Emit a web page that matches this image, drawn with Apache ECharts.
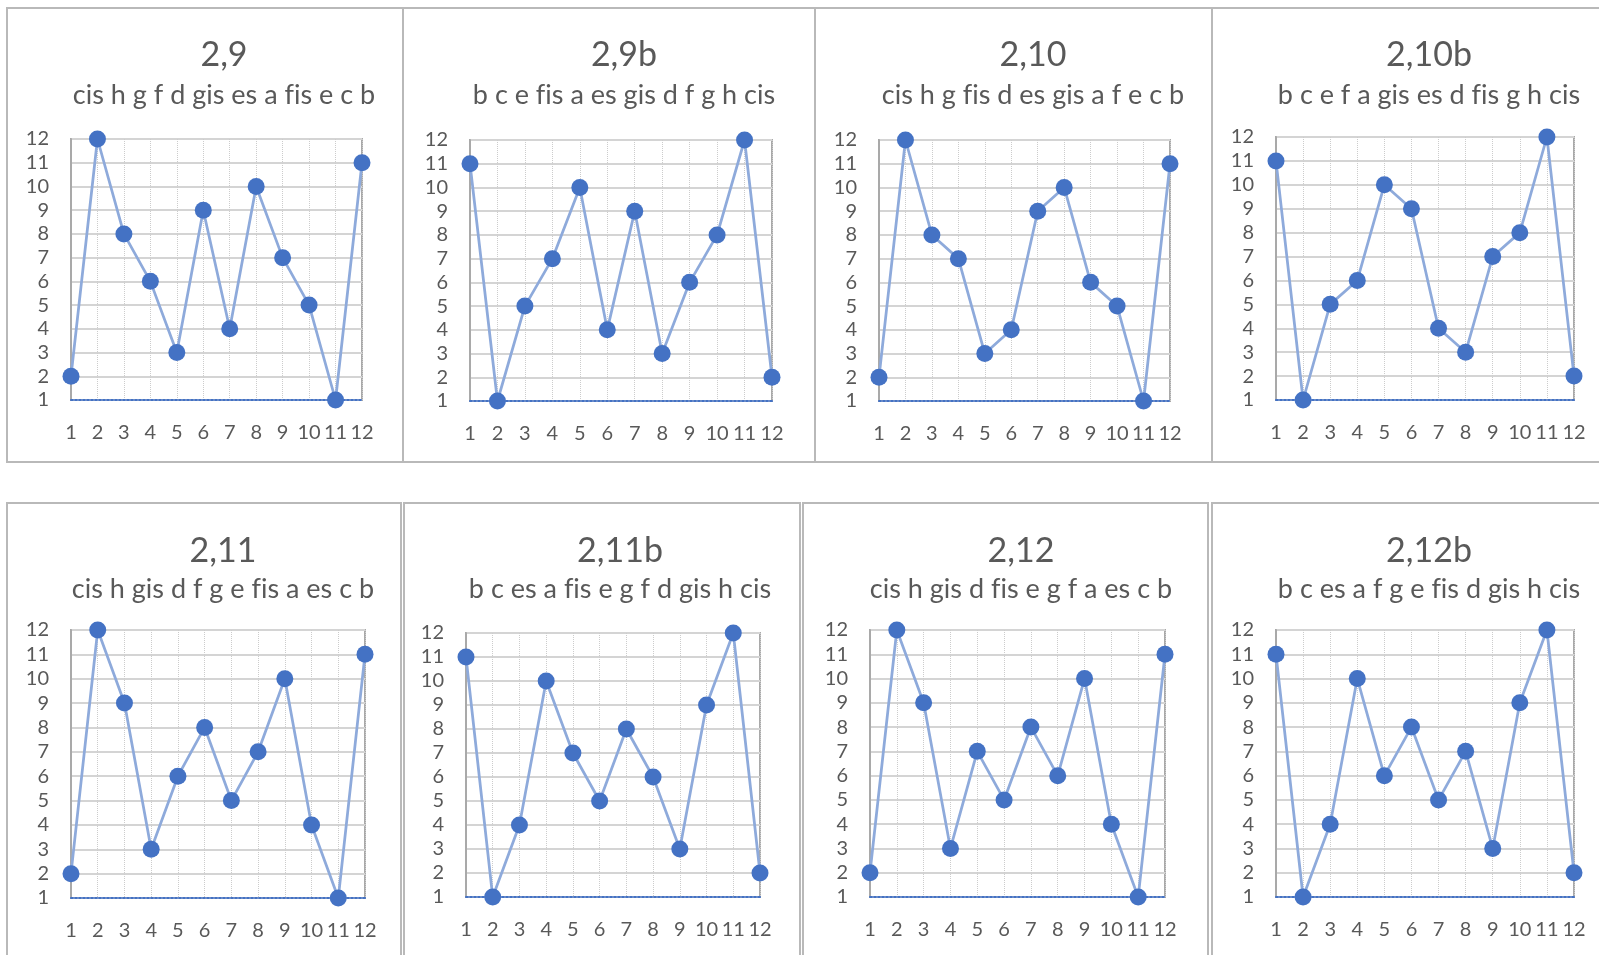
<!DOCTYPE html>
<html>
<head>
<meta charset="utf-8">
<script src="https://cdn.jsdelivr.net/npm/echarts@6/dist/echarts.min.js"></script>
<style>
  body { margin: 0; background: #fff; width: 1599px; height: 955px; overflow: hidden; position: relative; }
  .pn { position: absolute; box-sizing: border-box; border: 2px solid #b9b9b9; overflow: hidden; background: #fff; }
  .ch { position: absolute; left: -2px; top: -2px; }
</style>
</head>
<body>
<script>
// tone rows, one line per chart
var titles = ['2,9', '2,9b', '2,10', '2,10b', '2,11', '2,11b', '2,12', '2,12b'];
var subtitles = [
  'cis h g f d gis es a fis e c b',
  'b c e fis a es gis d f g h cis',
  'cis h g fis d es gis a f e c b',
  'b c e f a gis es d fis g h cis',
  'cis h gis d f g e fis a es c b',
  'b c es a fis e g f d gis h cis',
  'cis h gis d fis e g f a es c b',
  'b c es a f g e fis d gis h cis'
];
var xLabels = ['1', '2', '3', '4', '5', '6', '7', '8', '9', '10', '11', '12'];

var v29   = [2, 12, 8, 6, 3, 9, 4, 10, 7, 5, 1, 11];
var v29b  = [11, 1, 5, 7, 10, 4, 9, 3, 6, 8, 12, 2];
var v210  = [2, 12, 8, 7, 3, 4, 9, 10, 6, 5, 1, 11];
var v210b = [11, 1, 5, 6, 10, 9, 4, 3, 7, 8, 12, 2];
var v211  = [2, 12, 9, 3, 6, 8, 5, 7, 10, 4, 1, 11];
var v211b = [11, 1, 4, 10, 7, 5, 8, 6, 3, 9, 12, 2];
var v212  = [2, 12, 9, 3, 7, 5, 8, 6, 10, 4, 1, 11];
var v212b = [11, 1, 4, 10, 6, 8, 5, 7, 3, 9, 12, 2];
var values = [v29, v29b, v210, v210b, v211, v211b, v212, v212b];

// layout: panel box [x0, y0, x1, y1], plot box [l, t, r, b], title centre x
var layout = [
  { box: [6, 7, 404, 463],    plot: [71, 139, 362, 400],   tx: 219 },
  { box: [402, 7, 816, 463],  plot: [470, 140, 772, 401],  tx: 619 },
  { box: [814, 7, 1213, 463], plot: [879, 140, 1170, 401], tx: 1028 },
  { box: [1211, 7, 1620, 463], plot: [1276, 137, 1574, 400], tx: 1424 },
  { box: [6, 502, 402, 970],  plot: [71, 630, 365, 898],   tx: 218 },
  { box: [403, 502, 801, 970], plot: [466, 633, 760, 897], tx: 615 },
  { box: [802, 502, 1209, 970], plot: [870, 630, 1165, 897], tx: 1016 },
  { box: [1211, 502, 1620, 970], plot: [1276, 630, 1574, 897], tx: 1424 }
];

var FONT = 'Lato';
var GREY = '#595959';

// Lato would draw "fi" as a ligature; a zero-width non-joiner keeps the letters apart
function noLig(s) { return s.replace(/fi/g, 'f\u200Ci'); }

titles.forEach(function (t, i) {
  var L = layout[i];
  var w = L.box[2] - L.box[0], h = L.box[3] - L.box[1];
  var pn = document.createElement('div');
  pn.className = 'pn';
  pn.style.left = L.box[0] + 'px'; pn.style.top = L.box[1] + 'px';
  pn.style.width = w + 'px'; pn.style.height = h + 'px';
  var el = document.createElement('div');
  el.className = 'ch';
  el.style.width = w + 'px'; el.style.height = h + 'px';
  pn.appendChild(el);
  document.body.appendChild(pn);

  var titleY = i < 4 ? 26 : 27;
  var subY = i < 4 ? 70 : 69;
  var ec = echarts.init(el);
  ec.setOption({
    animation: false,
    title: [
      { text: t, left: L.tx - L.box[0], top: titleY, textAlign: 'center',
        textStyle: { fontFamily: FONT, fontSize: 34, fontWeight: 'normal', color: GREY } },
      { text: noLig(subtitles[i]), left: L.tx - L.box[0], top: subY, textAlign: 'center',
        textStyle: { fontFamily: FONT, fontSize: 27, fontWeight: 'normal', color: GREY } }
    ],
    grid: {
      left: L.plot[0] - L.box[0], top: L.plot[1] - L.box[1],
      width: L.plot[2] - L.plot[0], height: L.plot[3] - L.plot[1],
      show: true, borderColor: '#a9a9a9', borderWidth: 2
    },
    xAxis: {
      type: 'category', boundaryGap: false, data: xLabels,
      axisTick: { show: false },
      axisLine: { lineStyle: { color: '#4472c4', type: 'dotted', width: 2 } },
      axisLabel: { interval: 0, margin: 23, fontFamily: FONT, fontSize: 20, color: GREY },
      splitLine: { show: true, lineStyle: { color: '#cccccc', type: 'dotted', width: 1 } }
    },
    yAxis: {
      type: 'value', min: 1, max: 12, interval: 1,
      axisTick: { show: false },
      axisLine: { show: true, lineStyle: { color: '#a9a9a9', width: 2 } },
      axisLabel: { margin: 22, fontFamily: FONT, fontSize: 20, color: GREY },
      splitLine: { lineStyle: { color: '#d4d4d4', width: 2 } }
    },
    series: [{
      type: 'line', data: values[i], clip: false,
      symbol: 'circle', symbolSize: 17,
      lineStyle: { color: '#8eaadb', width: 2.75 },
      itemStyle: { color: '#4472c4' }
    }]
  });
});
</script>
</body>
</html>
